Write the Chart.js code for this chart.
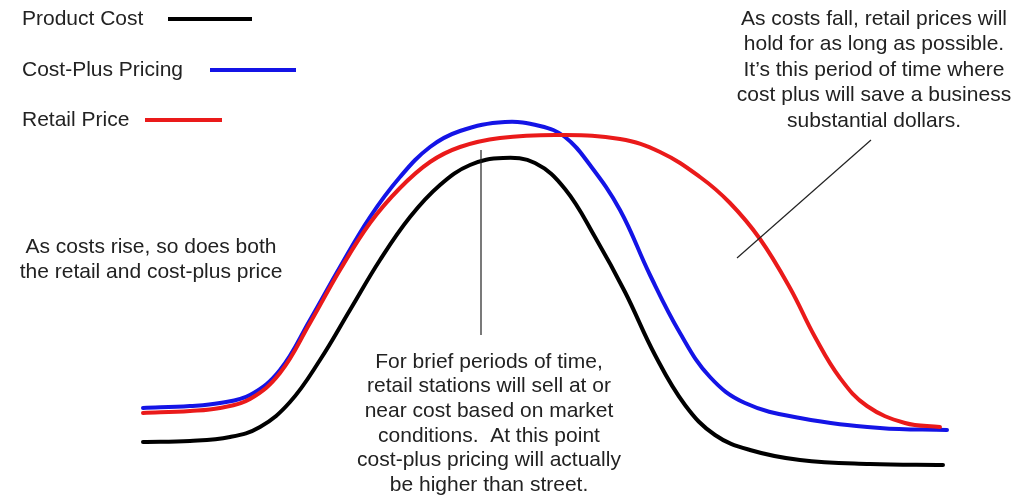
<!DOCTYPE html>
<html>
<head>
<meta charset="utf-8">
<script src="https://cdn.jsdelivr.net/npm/chart.js@4"></script>
<style>
  html, body { margin: 0; padding: 0; background: #fff; }
  #wrap { width: 1019px; height: 495px; }
</style>
</head>
<body>
<div id="wrap"><canvas id="price-chart" width="1019" height="495"></canvas></div>
<script>
// 曲线数据：x 为时间位置，y 为价格水平
const productCostX = [143, 190, 230, 260, 290, 320, 350, 380, 410, 440, 470, 503, 535, 565, 595, 625, 655, 685, 715, 750, 800, 870, 943];
const productCostY = [53, 54, 58, 68, 93, 135, 185, 235, 278, 310, 330, 337, 332, 306, 258, 203, 140, 90, 60, 45, 35, 31, 30];

const costPlusX = [143, 190, 220, 250, 280, 310, 340, 370, 400, 430, 460, 505, 540, 565, 590, 620, 650, 680, 710, 745, 800, 880, 947];
const costPlusY = [87, 89, 92, 100, 125, 175, 228, 278, 318, 348, 364, 373, 369, 358, 330, 285, 220, 162, 118, 92, 77, 67, 65];

const retailX = [143, 190, 220, 250, 280, 310, 340, 370, 400, 430, 460, 500, 560, 620, 660, 700, 730, 760, 790, 815, 840, 867, 905, 940];
const retailY = [82, 84, 87, 96, 122, 172, 225, 272, 307, 333, 348, 357, 360, 356, 343, 318, 292, 256, 207, 158, 117, 89, 72, 68];

// 指示线
const pointerPeakX = [481, 481];
const pointerPeakY = [345, 160];
const pointerFallX = [871, 737];
const pointerFallY = [355, 237];

const seriesLabels = ['Product Cost', 'Cost-Plus Pricing', 'Retail Price'];
const seriesColors = ['#000000', '#1414e6', '#ea1a1a'];

const noteRise = ['As costs rise, so does both', 'the retail and cost-plus price'];
const noteFall = ['As costs fall, retail prices will', 'hold for as long as possible.',
  'It\u2019s this period of time where', 'cost plus will save a business', 'substantial dollars.'];
const noteBrief = ['For brief periods of time,', 'retail stations will sell at or',
  'near cost based on market', 'conditions.  At this point',
  'cost-plus pricing will actually', 'be higher than street.'];

function toPoints(xs, ys) {
  return xs.map((x, i) => ({ x: x, y: ys[i] }));
}

function curve(label, xs, ys, color) {
  return {
    label: label,
    data: toPoints(xs, ys),
    borderColor: color,
    backgroundColor: color,
    borderWidth: 4,
    pointRadius: 0,
    showLine: true,
    fill: false,
    tension: 0.4,
    borderCapStyle: 'round'
  };
}

function pointer(xs, ys) {
  return {
    label: '',
    data: toPoints(xs, ys),
    borderColor: '#222',
    borderWidth: 1.2,
    pointRadius: 0,
    showLine: true,
    fill: false,
    tension: 0
  };
}

const FONT = '21px "Liberation Sans", Arial, sans-serif';

// 图例和注释文字
const textPlugin = {
  id: 'notes',
  afterDraw(chart) {
    const ctx = chart.ctx;
    ctx.save();
    ctx.font = FONT;
    ctx.fillStyle = '#222';
    ctx.textBaseline = 'middle';

    // 图例
    const legendRows = [
      { y: 19, x0: 168, x1: 252 },
      { y: 70, x0: 210, x1: 296 },
      { y: 120, x0: 145, x1: 222 }
    ];
    ctx.textAlign = 'left';
    legendRows.forEach((row, i) => {
      ctx.fillStyle = '#222';
      ctx.fillText(seriesLabels[i], 22, row.y);
      ctx.strokeStyle = seriesColors[i];
      ctx.lineWidth = 4;
      ctx.beginPath();
      ctx.moveTo(row.x0, row.y);
      ctx.lineTo(row.x1, row.y);
      ctx.stroke();
    });

    ctx.fillStyle = '#222';
    ctx.textAlign = 'center';
    noteRise.forEach((t, i) => ctx.fillText(t, 151, 247 + i * 25.5));
    noteFall.forEach((t, i) => ctx.fillText(t, 874, 19 + i * 25.5));
    noteBrief.forEach((t, i) => ctx.fillText(t, 489, 362 + i * 24.6));
    ctx.restore();
  }
};

new Chart(document.getElementById('price-chart').getContext('2d'), {
  type: 'scatter',
  data: {
    datasets: [
      pointer(pointerPeakX, pointerPeakY),
      pointer(pointerFallX, pointerFallY),
      curve(seriesLabels[2], retailX, retailY, seriesColors[2]),
      curve(seriesLabels[1], costPlusX, costPlusY, seriesColors[1]),
      curve(seriesLabels[0], productCostX, productCostY, seriesColors[0])
    ]
  },
  options: {
    responsive: false,
    animation: false,
    devicePixelRatio: 1,
    layout: { padding: 0 },
    plugins: {
      legend: { display: false },
      tooltip: { enabled: false },
      title: { display: false }
    },
    scales: {
      x: { type: 'linear', min: 0, max: 1019, display: false },
      y: { type: 'linear', min: 0, max: 495, display: false }
    }
  },
  plugins: [textPlugin]
});
</script>
</body>
</html>
